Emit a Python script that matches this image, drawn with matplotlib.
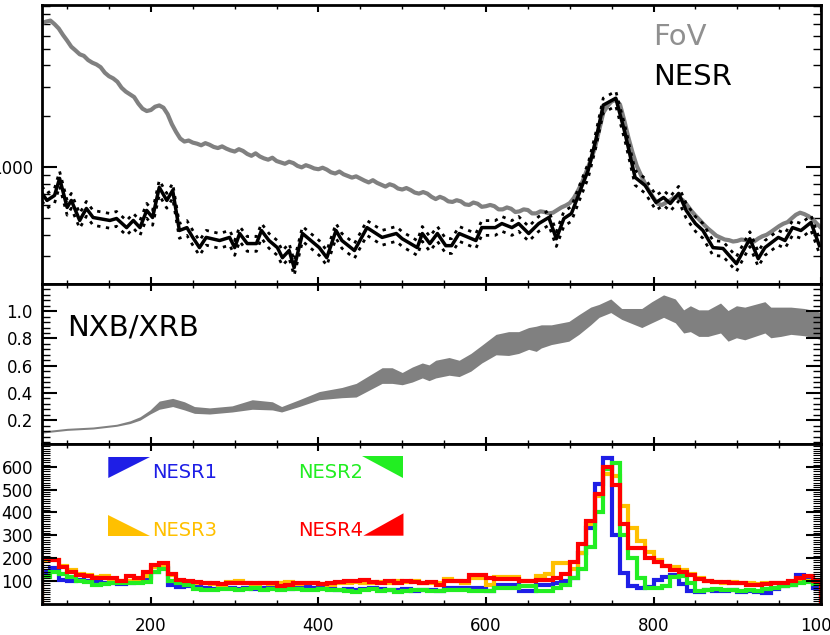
import matplotlib
matplotlib.use("Agg")
import matplotlib.pyplot as plt
from matplotlib.ticker import MultipleLocator, LogLocator, NullFormatter
from matplotlib.patches import Polygon
import numpy as np

## top panel: FoV curve (gray) and NESR (black, with dotted bounds) ##
fov_x = np.arange(70, 1001, 5)
fov = [7100, 7250, 7350, 7000, 6600, 6050, 5600, 5150, 4900, 4650, 4550, 4300, 4150, 4050, 3900, 3620, 3450, 3350, 3200, 2950,
       2800, 2700, 2600, 2380, 2220, 2150, 2180, 2280, 2320, 2250, 2060, 1800, 1620, 1480, 1420, 1440, 1400, 1380, 1350, 1390,
       1360, 1320, 1300, 1330, 1290, 1260, 1240, 1280, 1250, 1200, 1170, 1210, 1160, 1130, 1110, 1140, 1090, 1070, 1050, 1080,
       1060, 1020, 1000, 1030, 1010, 985, 975, 995, 970, 935, 920, 945, 910, 890, 870, 885, 860, 835, 815, 840,
       810, 790, 770, 795, 780, 750, 740, 755, 735, 710, 700, 715, 700, 670, 650, 670, 655, 630, 625, 640,
       630, 605, 600, 620, 610, 585, 590, 600, 590, 565, 565, 580, 570, 545, 550, 565, 560, 535, 535, 550,
       545, 535, 540, 560, 580, 595, 615, 660, 730, 820, 950, 1100, 1300, 1650, 2100, 2300, 2450, 2500, 2350, 1900,
       1500, 1220, 1020, 900, 800, 720, 660, 610, 600, 620, 640, 665, 660, 640, 600, 555, 520, 490, 460, 435,
       415, 395, 385, 375, 372, 365, 368, 375, 372, 362, 365, 380, 392, 400, 415, 432, 450, 465, 475, 500,
       525, 540, 530, 515, 495, 465, 440]

nesr_x = [70, 76, 85, 91, 100, 105, 115, 123, 131, 151, 159, 171, 179, 187, 195,
          202, 210, 219, 226, 234, 243, 250, 258, 266, 282, 294, 300, 306, 315,
          326, 332, 341, 351, 357, 365, 371, 381, 401, 410, 421, 428, 443, 458,
          476, 493, 500, 518, 524, 533, 542, 552, 559, 568, 588, 595, 611, 619,
          631, 639, 651, 663, 675, 684, 693, 702, 714, 722, 731, 740, 755, 766,
          778, 790, 803, 812, 820, 830, 839, 850, 859, 871, 883, 899, 915, 925,
          933, 949, 957, 966, 976, 988, 998]
nesr = [702, 638, 683, 861, 580, 638, 486, 572, 506, 486, 499, 441, 486, 441, 557,
        506, 762, 638, 731, 424, 441, 386, 336, 386, 370, 386, 336, 407, 355,
        355, 424, 370, 336, 293, 323, 256, 407, 336, 293, 424, 370, 323, 441,
        386, 407, 379, 336, 407, 355, 407, 345, 345, 407, 370, 441, 441, 466,
        441, 466, 407, 466, 506, 379, 499, 534, 762, 960, 1445, 2330, 2560, 1590,
        873, 782, 621, 664, 612, 702, 557, 466, 424, 336, 332, 270, 379, 289,
        336, 386, 370, 441, 424, 473, 345]
nesr_rel_err = 0.10

top_yticks = [1000]
top_ylabels = ["1000"]

## middle panel: NXB/XRB band ##
band_x = [70, 100, 131, 159, 175, 187, 199, 210, 226, 240,
          252, 270, 297, 321, 345, 356, 377, 401, 428, 445,
          476, 488, 500, 512, 524, 532, 540, 556, 568, 582,
          595, 612, 627, 639, 651, 660, 666, 678, 699, 711,
          725, 735, 749, 762, 774, 786, 798, 812, 826, 836,
          844, 854, 865, 880, 889, 899, 909, 933, 940, 952,
          964, 980, 995, 1000]
band_hi = [0.12, 0.14, 0.15, 0.17, 0.195, 0.225, 0.275, 0.34, 0.36, 0.335,
           0.30, 0.29, 0.305, 0.35, 0.335, 0.30, 0.35, 0.41, 0.44, 0.47,
           0.585, 0.585, 0.55, 0.59, 0.62, 0.606, 0.64, 0.66, 0.64, 0.69,
           0.75, 0.83, 0.85, 0.85, 0.88, 0.89, 0.90, 0.90, 0.925, 0.975,
           1.03, 1.05, 1.09, 1.02, 1.02, 1.02, 1.07, 1.12, 1.09, 1.01,
           1.04, 1.01, 1.01, 1.06, 1.005, 1.04, 1.03, 1.07, 1.03, 1.03,
           1.03, 1.02, 1.00, 0.99]
band_lo = [0.105, 0.125, 0.135, 0.155, 0.175, 0.2, 0.245, 0.28, 0.30, 0.275,
           0.25, 0.245, 0.26, 0.28, 0.275, 0.26, 0.30, 0.35, 0.365, 0.37,
           0.47, 0.47, 0.46, 0.48, 0.51, 0.49, 0.51, 0.53, 0.52, 0.56,
           0.62, 0.68, 0.675, 0.69, 0.72, 0.705, 0.73, 0.755, 0.78, 0.83,
           0.90, 0.955, 0.99, 0.94, 0.91, 0.88, 0.915, 0.955, 0.915, 0.84,
           0.85, 0.815, 0.815, 0.84, 0.78, 0.805, 0.79, 0.84, 0.805, 0.815,
           0.83, 0.82, 0.80, 0.79]

## bottom panel: histograms, 10-unit bins from 70 to 1000 ##
hist_edges = np.arange(70, 1001, 10)
nesr1 = [140, 155, 105, 100, 105, 100, 95, 90, 92, 85,
         88, 95, 110, 140, 155, 80, 72, 75, 72, 70,
         65, 68, 70, 65, 68, 62, 66, 70, 62, 65,
         70, 72, 68, 70, 65, 60, 62, 58, 65, 70,
         62, 60, 58, 62, 55, 60, 58, 53, 68, 68,
         68, 68, 68, 53, 82, 82, 82, 53, 53, 82,
         82, 90, 100, 110, 220, 330, 525, 637, 300, 135,
         75, 70, 72, 105, 115, 125, 85, 55, 52, 58,
         55, 55, 58, 52, 55, 50, 48, 62, 75, 80,
         125, 110, 70]
nesr2 = [115, 140, 130, 115, 100, 95, 80, 85, 90, 92,
         90, 88, 95, 140, 150, 100, 90, 80, 65, 60,
         58, 62, 65, 60, 62, 66, 60, 62, 58, 62,
         65, 60, 58, 62, 60, 58, 55, 52, 58, 62,
         55, 58, 52, 56, 60, 58, 55, 53, 60, 60,
         58, 55, 53, 55, 68, 68, 70, 75, 75, 53,
         53, 68, 82, 110, 150, 250, 400, 590, 615, 300,
         200, 110, 70, 70, 75, 115, 120, 90, 55, 60,
         62, 60, 58, 55, 58, 55, 65, 70, 75, 80,
         88, 95, 85]
nesr3 = [190, 190, 165, 145, 130, 125, 118, 120, 105, 100,
         100, 105, 120, 160, 165, 125, 95, 90, 92, 88,
         85, 80, 95, 100, 90, 85, 92, 85, 90, 95,
         85, 88, 90, 85, 82, 88, 90, 95, 88, 92,
         95, 90, 100, 95, 100, 92, 88, 90, 107, 100,
         92, 111, 111, 82, 118, 118, 118, 100, 100, 120,
         130, 177, 177, 150, 220, 350, 470, 570, 560, 430,
         330, 275, 225, 192, 165, 160, 145, 130, 110, 100,
         95, 92, 95, 90, 88, 85, 88, 90, 92, 95,
         100, 100, 95]
nesr4 = [195, 190, 160, 140, 125, 120, 112, 110, 110, 98,
         120, 112, 140, 168, 178, 130, 105, 100, 95, 90,
         92, 85, 92, 90, 88, 92, 88, 90, 78, 82,
         88, 92, 90, 85, 88, 95, 100, 98, 102, 95,
         90, 98, 92, 100, 95, 92, 96, 82, 97, 97,
         100, 126, 126, 111, 107, 107, 107, 97, 97, 104,
         104, 111, 130, 180, 260, 361, 479, 600, 520, 350,
         244, 244, 200, 180, 165, 145, 140, 126, 108, 100,
         96, 95, 92, 88, 82, 82, 85, 90, 92, 100,
         110, 119, 100]
hist_labels = ["NESR1", "NESR2", "NESR3", "NESR4"]
hist_colors = ["#1E1EE6", "#22EE22", "#FFC000", "#FF0000"]

xlabels = ["200", "400", "600", "800", "1000"]
xticks = [200, 400, 600, 800, 1000]

plt.rcParams["font.family"] = "DejaVu Sans"
plt.rcParams["axes.linewidth"] = 2.0

fig = plt.figure(figsize=(8.3, 6.35), dpi=100)
L, W = 0.0506, 0.9386
ax1 = fig.add_axes([L, 0.5528, W, 0.4394])
ax2 = fig.add_axes([L, 0.3008, W, 0.2520])
ax3 = fig.add_axes([L, 0.0496, W, 0.2512])

for ax in (ax1, ax2, ax3):
	ax.set_xlim(70, 1000)
	ax.xaxis.set_major_locator(MultipleLocator(200))
	ax.xaxis.set_minor_locator(MultipleLocator(50))
	ax.tick_params(which="both", direction="in", top=True, right=True, labelsize=12)
	ax.tick_params(axis="x", which="major", length=5, width=1.5, pad=10)
	ax.tick_params(axis="x", which="minor", length=3, width=1.0)
	ax.tick_params(axis="y", which="major", length=11, width=1.5, pad=6.5)
	ax.tick_params(axis="y", which="minor", length=6, width=1.0)

## top ##
ax1.set_yscale("log")
ax1.plot(fov_x, fov, color="#808080", lw=3.0, zorder=2)
nesr_arr = np.array(nesr)
ax1.plot(nesr_x, nesr_arr * (1 + nesr_rel_err), color="k", lw=2, ls=(0, (1.2, 2)), zorder=3)
ax1.plot(nesr_x, nesr_arr * (1 - nesr_rel_err), color="k", lw=2, ls=(0, (1.2, 2)), zorder=3)
ax1.plot(nesr_x, nesr, color="k", lw=2.5, zorder=4)
ax1.set_ylim(205, 9090)
ax1.yaxis.set_major_locator(plt.FixedLocator(top_yticks))
ax1.set_yticklabels(top_ylabels)
ax1.yaxis.set_minor_locator(LogLocator(base=10, subs=np.arange(2, 10)))
ax1.yaxis.set_minor_formatter(NullFormatter())
ax1.tick_params(labelbottom=False)
ax1.text(0.784, 0.8835, "FoV", color="#909090", fontsize=21, ha="left", va="center", transform=ax1.transAxes)
ax1.text(0.784, 0.743, "NESR", color="k", fontsize=21, ha="left", va="center", transform=ax1.transAxes)

## middle ##
ax2.fill_between(band_x, band_lo, band_hi, color="#808080", lw=0)
ax2.set_ylim(0.025, 1.2)
ax2.yaxis.set_major_locator(plt.FixedLocator([0.2, 0.4, 0.6, 0.8, 1.0]))
ax2.yaxis.set_minor_locator(MultipleLocator(0.04))
ax2.yaxis.set_major_formatter(plt.FormatStrFormatter("%.1f"))
ax2.tick_params(labelbottom=False)
ax2.text(0.0317, 0.725, "NXB/XRB", color="k", fontsize=21, ha="left", va="center", transform=ax2.transAxes)

## bottom ##
for vals, c in zip([nesr1, nesr3, nesr2, nesr4], [hist_colors[0], hist_colors[2], hist_colors[1], hist_colors[3]]):
	ax3.stairs(vals, hist_edges, color=c, lw=3)
ax3.set_ylim(0, 700)
ax3.yaxis.set_major_locator(plt.FixedLocator([100, 200, 300, 400, 500, 600]))
ax3.yaxis.set_minor_locator(MultipleLocator(10))
ax3.tick_params(axis="y", which="minor", length=6, width=0.8)
ax3.set_xticks(xticks)
ax3.set_xticklabels(xlabels)

# legend glyphs, axes fraction
tri = [
	[(0.0851, 0.9185), (0.1386, 0.9185), (0.0851, 0.7868)],
	[(0.4104, 0.9248), (0.4640, 0.9248), (0.4640, 0.7868)],
	[(0.0851, 0.5549), (0.0851, 0.4251), (0.1386, 0.4251)],
	[(0.4125, 0.4251), (0.4640, 0.5655), (0.4640, 0.4251)],
]
txt_pos = [(0.1408, 0.7868), (0.3282, 0.7868), (0.1408, 0.4251), (0.3282, 0.4251)]
for i in range(4):
	ax3.text(txt_pos[i][0], txt_pos[i][1], hist_labels[i], color=hist_colors[i], fontsize=14,
		ha="left", va="baseline", transform=ax3.transAxes)
	ax3.add_patch(Polygon(tri[i], closed=True, color=hist_colors[i], lw=0, transform=ax3.transAxes))

plt.savefig("out.png", dpi=100)
